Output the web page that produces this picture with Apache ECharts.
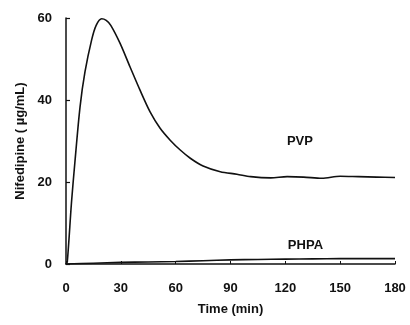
<!DOCTYPE html>
<html><head><meta charset="utf-8">
<script src="https://cdn.jsdelivr.net/npm/echarts@6/dist/echarts.min.js"></script>
<style>html,body{margin:0;padding:0;background:#fff}#c{width:410px;height:325px}</style>
</head><body><div id="c"></div>
<script>
const pvpTime  = [0, 0.7, 3, 4.9, 7.7, 10.4, 14, 16.5, 19.5, 22, 24.5, 29.6, 35, 40.5, 46, 51.5, 57, 62.5, 68, 75, 84.4, 93.5, 101, 112, 121, 130, 140, 150, 160, 170, 180];
const pvpValue = [0, 0.5, 15, 25, 38.4, 46.9, 54.6, 58.2, 59.8, 59.4, 58.2, 53.8, 48.1, 42.4, 37.1, 33.1, 30.2, 27.8, 25.8, 23.9, 22.5, 21.9, 21.3, 21.0, 21.3, 21.2, 20.9, 21.4, 21.3, 21.2, 21.1];
const phpaTime  = [0, 15, 30, 45, 60, 75, 90, 105, 120, 135, 150, 165, 180];
const phpaValue = [0, 0.2, 0.4, 0.5, 0.6, 0.8, 1.0, 1.1, 1.2, 1.25, 1.3, 1.3, 1.3];
const xTicks = [0, 30, 60, 90, 120, 150, 180];
const yTicks = [0, 20, 40, 60];
const seriesNames = ['PVP', 'PHPA'];
const labelPos = { PVP: [128, 29.8], PHPA: [131, 4.6] };

const zip = (a, b) => a.map((v, i) => [v, b[i]]);
const font = 'Liberation Sans, Arial, sans-serif';
const chart = echarts.init(document.getElementById('c'));
const mk = (name, t, v) => ({
  name, type: 'line', data: zip(t, v), showSymbol: false, smooth: 0.3,
  lineStyle: { color: '#111', width: 1.6 },
  markPoint: {
    symbol: 'circle', symbolSize: 0,
    label: { show: true, formatter: name, color: '#111', fontFamily: font, fontWeight: 'bold', fontSize: 13, position: 'inside' },
    data: [{ coord: labelPos[name] }]
  }
});
chart.setOption({
  animation: false,
  backgroundColor: '#fff',
  grid: { left: 66, right: 15, top: 18, bottom: 61 },
  xAxis: {
    type: 'value', min: 0, max: 180, interval: 30,
    name: 'Time (min)', nameLocation: 'middle', nameGap: 39,
    nameTextStyle: { color: '#111', fontFamily: font, fontWeight: 'bold', fontSize: 13 },
    axisLine: { show: true, lineStyle: { color: '#111', width: 1.5 } },
    axisTick: { show: true, inside: true, length: 3, lineStyle: { color: '#111' } },
    axisLabel: { color: '#111', fontFamily: font, fontWeight: 'bold', fontSize: 13, margin: 18,
      formatter: v => xTicks.includes(v) ? String(v) : '' },
    splitLine: { show: false }
  },
  yAxis: {
    type: 'value', min: 0, max: 60, interval: 20,
    name: 'Nifedipine ( \u00b5g/mL)', nameLocation: 'middle', nameGap: 39, nameRotate: 90,
    nameTextStyle: { color: '#111', fontFamily: font, fontWeight: 'bold', fontSize: 13 },
    axisLine: { show: true, lineStyle: { color: '#111', width: 1.5 } },
    axisTick: { show: true, inside: true, length: 4, lineStyle: { color: '#111', width: 1.2 } },
    axisLabel: { color: '#111', fontFamily: font, fontWeight: 'bold', fontSize: 13, margin: 14,
      formatter: v => yTicks.includes(v) ? String(v) : '' },
    splitLine: { show: false }
  },
  series: [mk(seriesNames[0], pvpTime, pvpValue), mk(seriesNames[1], phpaTime, phpaValue)]
});
</script></body></html>
